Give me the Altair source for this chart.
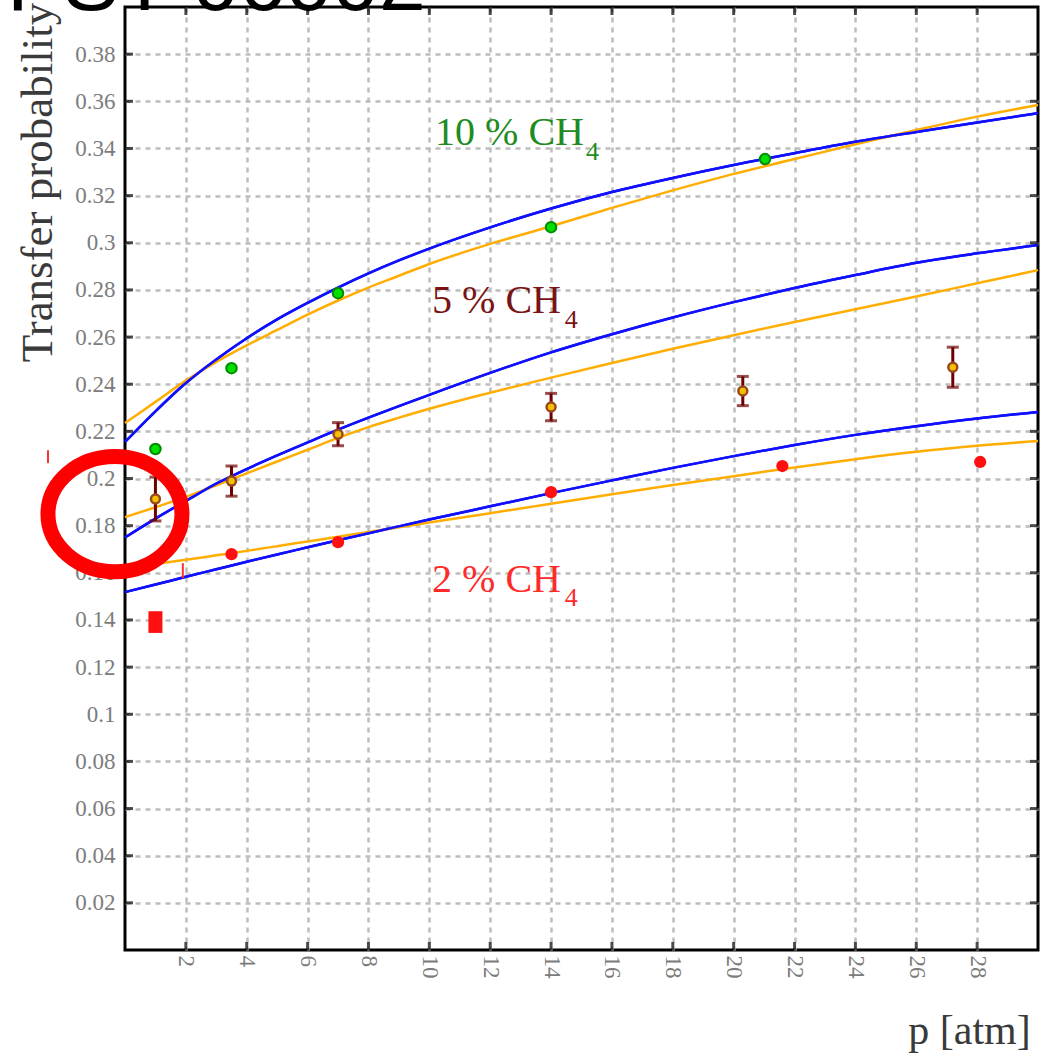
import altair as alt
import pandas as pd

# ---------------- data ----------------
X_TICKS = [2, 4, 6, 8, 10, 12, 14, 16, 18, 20, 22, 24, 26, 28]
Y_TICKS = [0.02, 0.04, 0.06, 0.08, 0.10, 0.12, 0.14, 0.16, 0.18, 0.20,
           0.22, 0.24, 0.26, 0.28, 0.30, 0.32, 0.34, 0.36, 0.38]

curve_p = [0, 1, 2, 3, 4, 5, 6, 7, 8, 9, 10, 12, 14, 16, 18, 20, 22, 24, 26, 28, 30]
blue_10 = [0.2155, 0.2285, 0.2405, 0.2505, 0.2595, 0.2675, 0.2745, 0.281, 0.287, 0.2925, 0.2975,
           0.3065, 0.3145, 0.3215, 0.3275, 0.333, 0.338, 0.3428, 0.347, 0.351, 0.355]
orange_10 = [0.2235, 0.2325, 0.2415, 0.2495, 0.2565, 0.263, 0.2695, 0.2755, 0.281, 0.286, 0.291,
             0.2995, 0.307, 0.3148, 0.3222, 0.3292, 0.3355, 0.3418, 0.3478, 0.3535, 0.3584]
blue_5 = [0.175, 0.183, 0.1905, 0.1978, 0.204, 0.2098, 0.2153, 0.2207, 0.2258, 0.2307, 0.2355,
          0.2448, 0.2535, 0.2612, 0.2683, 0.2748, 0.2808, 0.2863, 0.2915, 0.2955, 0.299]
orange_5 = [0.1836, 0.1878, 0.1922, 0.1971, 0.2022, 0.2072, 0.2122, 0.2172, 0.2218, 0.2258, 0.2296,
            0.2364, 0.2428, 0.249, 0.255, 0.2608, 0.2664, 0.2718, 0.2772, 0.2828, 0.2884]
blue_2 = [0.1518, 0.155, 0.1583, 0.1615, 0.1647, 0.1678, 0.1708, 0.1738, 0.1768, 0.1797, 0.1826,
          0.1882, 0.1938, 0.1992, 0.2045, 0.2095, 0.2142, 0.2185, 0.2222, 0.2255, 0.2282]
orange_2 = [0.162, 0.1637, 0.1655, 0.1674, 0.1693, 0.1713, 0.1733, 0.1753, 0.1773, 0.1793, 0.1813,
            0.1853, 0.1893, 0.1933, 0.1972, 0.201, 0.2047, 0.2082, 0.2113, 0.2139, 0.2159]

p_10 = [1, 3.5, 7, 14, 21.03]
t_10 = [0.2125, 0.2468, 0.2786, 0.3066, 0.3355]

p_5 = [1, 3.5, 7, 14, 20.3, 27.2]
t_5 = [0.1913, 0.1989, 0.2188, 0.2303, 0.2371, 0.2472]
e_5 = [0.0093, 0.0064, 0.0049, 0.0058, 0.0062, 0.0085]

p_2 = [1, 3.5, 7, 14, 21.6, 28.1]
t_2 = [0.1391, 0.1679, 0.173, 0.1942, 0.2053, 0.207]
e_2 = [0.0046, 0, 0, 0, 0, 0]

label_text = ["10 % CH", "5 % CH", "2 % CH"]
label_sub = ["4", "4", "4"]
label_p = [10.19, 10.09, 10.09]
label_t = [0.3414, 0.2701, 0.1518]
sub_p = [15.15, 14.45, 14.45]
sub_t = [0.335, 0.2638, 0.1459]
label_color = ["#1e8c1e", "#7a1414", "#ff2a2a"]

# hand-drawn annotation on the scan
ring_p = [-0.33]
ring_t = [0.1849]
stray_p = [-2.53, 1.9]
stray_t1 = [0.212, 0.1641]
stray_t2 = [0.2065, 0.1578]

SERIF = "Liberation Serif"

# ---------------- build tables ----------------
curves = []
for name, vals, col in [("b10", blue_10, "blue"), ("o10", orange_10, "orange"),
                        ("b5", blue_5, "blue"), ("o5", orange_5, "orange"),
                        ("b2", blue_2, "blue"), ("o2", orange_2, "orange")]:
    for p, v in zip(curve_p, vals):
        curves.append({"p": p, "t": v, "curve": name, "kind": col})
curves = pd.DataFrame(curves)

d10 = pd.DataFrame({"p": p_10, "t": t_10})
d5 = pd.DataFrame({"p": p_5, "t": t_5, "lo": [a - b for a, b in zip(t_5, e_5)],
                   "hi": [a + b for a, b in zip(t_5, e_5)]})
d2 = pd.DataFrame({"p": p_2, "t": t_2, "lo": [a - b for a, b in zip(t_2, e_2)],
                   "hi": [a + b for a, b in zip(t_2, e_2)]})
d2bar = d2[d2["hi"] > d2["lo"]]

xs = alt.Scale(domain=[0, 30], nice=False, zero=False)
ys = alt.Scale(domain=[0, 0.4], nice=False, zero=False)

x_axis = alt.Axis(values=X_TICKS, labelAngle=90, labelFont=SERIF, labelFontSize=23,
                  labelColor="#7c7c7c", labelPadding=5, ticks=False, domain=False,
                  grid=True, gridColor="#bdbdbd", gridDash=[5, 5], gridWidth=2.5,
                  title="p [atm]", titleFont=SERIF, titleFontSize=42,
                  titleFontWeight="normal", titleColor="#3a3a3a", titleX=844,
                  titleY=80, titleAlign="center", titleBaseline="middle")
y_axis = alt.Axis(values=Y_TICKS, format=".2~f", labelFont=SERIF, labelFontSize=23,
                  labelColor="#7c7c7c", labelPadding=10, ticks=False, domain=False,
                  grid=True, gridColor="#bdbdbd", gridDash=[5, 5], gridWidth=2.5,
                  title="Transfer probability", titleFont=SERIF, titleFontSize=45,
                  titleFontWeight="normal", titleColor="#3a3a3a", titleAngle=270,
                  titleX=-88, titleY=175, titleAlign="center", titleBaseline="middle")


def X(field):
    return alt.X(f"{field}:Q", scale=xs, axis=x_axis)


def Y(field):
    return alt.Y(f"{field}:Q", scale=ys, axis=y_axis)


lines = alt.Chart(curves).mark_line(strokeWidth=2.5, interpolate="monotone").encode(
    x=X("p"), y=Y("t"),
    color=alt.Color("kind:N", scale=alt.Scale(domain=["blue", "orange"],
                                              range=["#1010ff", "#ffad00"]), legend=None),
    detail="curve:N",
)
lines_blue_on_top = alt.Chart(curves[curves["kind"] == "blue"]).mark_line(
    strokeWidth=2.5, interpolate="monotone", color="#1010ff").encode(
    x=X("p"), y=Y("t"), detail="curve:N")

pts10 = alt.Chart(d10).mark_point(filled=True, size=110, color="#00e000", stroke="#008a00",
                                  strokeWidth=2, shape="circle", opacity=1).encode(x=X("p"), y=Y("t"))

bars5 = alt.Chart(d5).mark_rule(color="#6e0000", strokeWidth=3).encode(x=X("p"), y=Y("lo"), y2="hi:Q")
caps5_lo = alt.Chart(d5).mark_tick(color="#6e0000", orient="horizontal", size=12, thickness=3).encode(x=X("p"), y=Y("lo"))
caps5_hi = alt.Chart(d5).mark_tick(color="#6e0000", orient="horizontal", size=12, thickness=3).encode(x=X("p"), y=Y("hi"))
pts5 = alt.Chart(d5).mark_point(filled=True, size=80, color="#f2c200", stroke="#9a4a1a",
                                strokeWidth=2.5, shape="circle", opacity=1).encode(x=X("p"), y=Y("t"))

bars2 = alt.Chart(d2bar).mark_rule(color="#ff1010", strokeWidth=14, strokeCap="butt").encode(
    x=X("p"), y=Y("lo"), y2="hi:Q")
pts2 = alt.Chart(d2).mark_point(filled=True, size=150, color="#ff1010", shape="circle",
                                opacity=1).encode(x=X("p"), y=Y("t"))

lab_df = pd.DataFrame({"p": label_p, "t": label_t, "txt": label_text, "c": label_color})
sub_df = pd.DataFrame({"p": sub_p, "t": sub_t, "txt": label_sub, "c": label_color})
labels = alt.Chart(lab_df).mark_text(font=SERIF, fontSize=40, align="left",
                                     baseline="alphabetic").encode(
    x=X("p"), y=Y("t"), text="txt:N", color=alt.Color("c:N", scale=None))
subs = alt.Chart(sub_df).mark_text(font=SERIF, fontSize=26, align="left",
                                   baseline="alphabetic").encode(
    x=X("p"), y=Y("t"), text="txt:N", color=alt.Color("c:N", scale=None))

# inward tick marks on all four sides
left_ticks = alt.Chart(pd.DataFrame({"p": [0] * len(Y_TICKS), "t": Y_TICKS})).mark_tick(
    orient="horizontal", size=8, thickness=3, color="black", xOffset=4).encode(x=X("p"), y=Y("t"))
right_ticks = alt.Chart(pd.DataFrame({"p": [30] * len(Y_TICKS), "t": Y_TICKS})).mark_tick(
    orient="horizontal", size=8, thickness=3, color="black", xOffset=-4).encode(x=X("p"), y=Y("t"))
bottom_ticks = alt.Chart(pd.DataFrame({"p": X_TICKS, "t": [0] * len(X_TICKS)})).mark_tick(
    orient="vertical", size=8, thickness=3, color="black", yOffset=-4).encode(x=X("p"), y=Y("t"))
top_ticks = alt.Chart(pd.DataFrame({"p": X_TICKS, "t": [0.4] * len(X_TICKS)})).mark_tick(
    orient="vertical", size=8, thickness=3, color="black", yOffset=4).encode(x=X("p"), y=Y("t"))

ring = alt.Chart(pd.DataFrame({"p": ring_p, "t": ring_t})).mark_point(
    shape="M-1,0A1,0.86,0,1,1,1,0A1,0.86,0,1,1,-1,0Z", size=134 * 134, filled=False,
    stroke="#ff0000", strokeWidth=15, opacity=1).encode(x=X("p"), y=Y("t"))
stray = alt.Chart(pd.DataFrame({"p": stray_p, "lo": stray_t2, "hi": stray_t1})).mark_rule(
    color="#ff3030", strokeWidth=2).encode(x=X("p"), y=Y("lo"), y2="hi:Q")

header = alt.Chart(pd.DataFrame({"txt": ["PST 06002"]})).mark_text(
    font="Liberation Sans", fontSize=84, align="left", baseline="alphabetic",
    color="black").encode(x=alt.value(-118), y=alt.value(3), text="txt:N")

chart = alt.layer(
    lines, lines_blue_on_top, bars5, caps5_lo, caps5_hi, pts5, pts10, bars2, pts2,
    labels, subs, left_ticks, right_ticks, bottom_ticks, top_ticks, stray, ring, header
).properties(
    width=913, height=943,
    autosize=alt.AutoSizeParams(type="none"),
    padding={"left": 125, "top": 7, "right": 3, "bottom": 108},
).configure_view(stroke="black", strokeWidth=3)

chart.save("out.html", embed_options={"renderer": "svg", "actions": False})
